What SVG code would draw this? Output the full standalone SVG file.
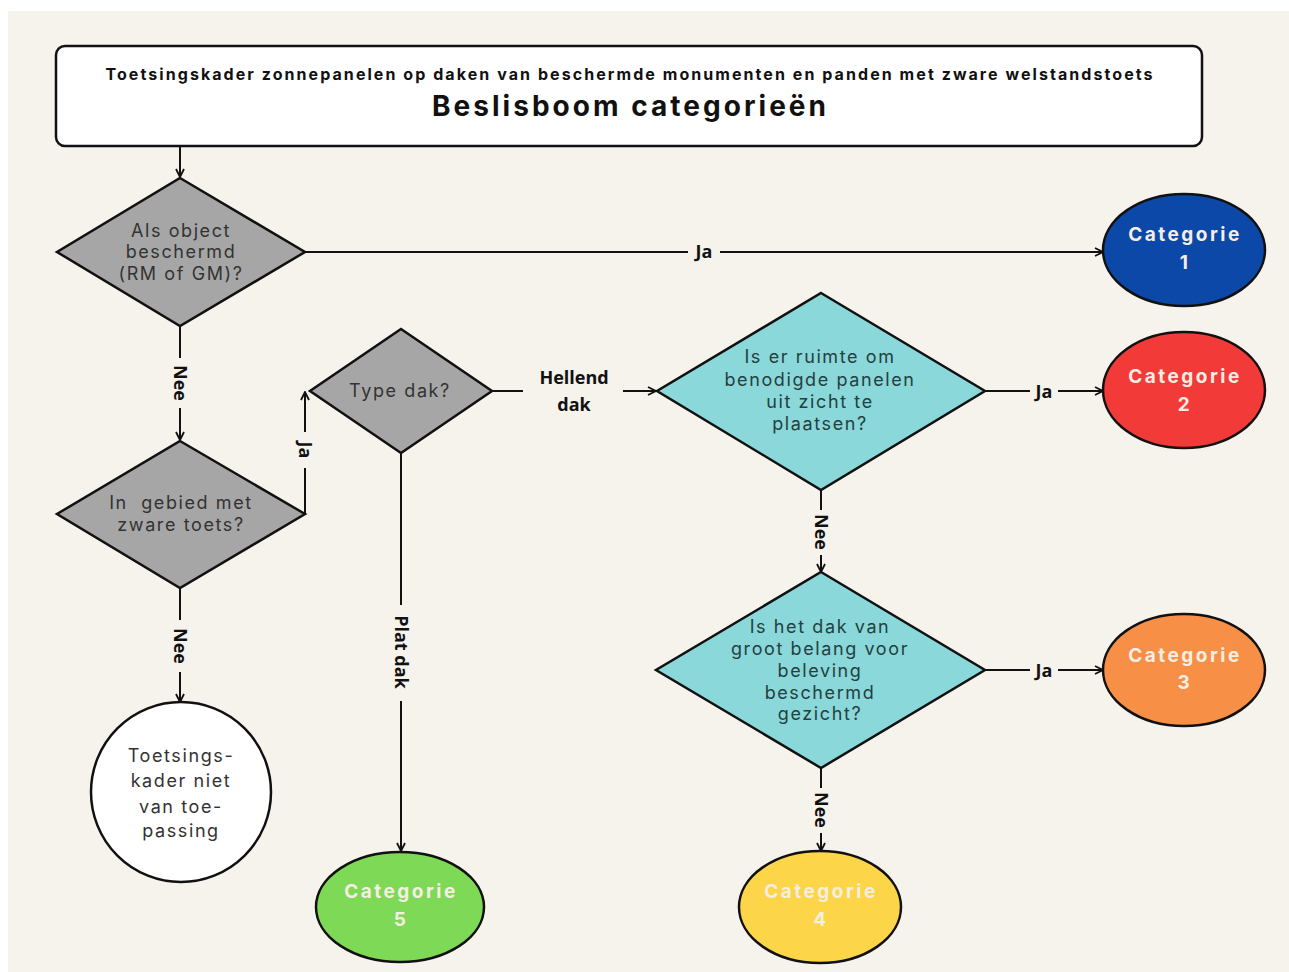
<svg xmlns="http://www.w3.org/2000/svg" width="1289" height="972" viewBox="0 0 1289 972">
<defs>
<marker id="arr" viewBox="0 0 10 10" refX="9" refY="5" markerWidth="10" markerHeight="10" markerUnits="userSpaceOnUse" orient="auto">
<path d="M1,1 L9,5 L1,9" fill="none" stroke="#111" stroke-width="1.8"/>
</marker>
<style>
.ln{fill:none;stroke:#111;stroke-width:2}
.gd{fill:#a6a6a6;stroke:#111;stroke-width:2.5}
.td{fill:#8ad8da;stroke:#111;stroke-width:2.5}
.el{stroke:#111;stroke-width:2.5}
.q{font-family:Inter,"Noto Sans",sans-serif;font-size:18px;letter-spacing:1.6px;text-anchor:middle;fill:#333}
.qt{fill:#24403f}
.cat{font-family:Inter,"Noto Sans",sans-serif;font-size:19px;font-weight:700;letter-spacing:2.5px;text-anchor:middle;fill:#f6eee2}
.lb{font-family:"Open Sans","Noto Sans",sans-serif;font-size:18px;font-weight:700;text-anchor:middle;fill:#111}
.tt{font-family:Inter,"Noto Sans",sans-serif;font-weight:700;text-anchor:middle;fill:#111}
</style>
</defs>
<rect x="0" y="0" width="1289" height="972" fill="#ffffff"/>
<rect x="8" y="11" width="1281" height="961" fill="#f6f2ec"/>

<g id="connectors">
<line class="ln" x1="180" y1="146" x2="180" y2="177" marker-end="url(#arr)"/>
<line class="ln" x1="305" y1="252" x2="688" y2="252"/>
<line class="ln" x1="720" y1="252" x2="1103" y2="252" marker-end="url(#arr)"/>
<text class="lb" x="704" y="258">Ja</text>
<line class="ln" x1="180" y1="326" x2="180" y2="358"/>
<line class="ln" x1="180" y1="408" x2="180" y2="440" marker-end="url(#arr)"/>
<text class="lb" transform="translate(174,383) rotate(90)">Nee</text>
<line class="ln" x1="305" y1="514" x2="305" y2="468"/>
<line class="ln" x1="305" y1="432" x2="305" y2="392" marker-end="url(#arr)"/>
<text class="lb" transform="translate(299,450) rotate(90)">Ja</text>
<line class="ln" x1="180" y1="588" x2="180" y2="620"/>
<line class="ln" x1="180" y1="672" x2="180" y2="702" marker-end="url(#arr)"/>
<text class="lb" transform="translate(174,646) rotate(90)">Nee</text>
<line class="ln" x1="492" y1="391" x2="523" y2="391"/>
<line class="ln" x1="623" y1="391" x2="656" y2="391" marker-end="url(#arr)"/>
<text class="lb" x="574" y="384">Hellend</text>
<text class="lb" x="574" y="411">dak</text>
<line class="ln" x1="401" y1="453" x2="401" y2="605"/>
<line class="ln" x1="401" y1="701" x2="401" y2="851" marker-end="url(#arr)"/>
<text class="lb" transform="translate(395,652) rotate(90)">Plat dak</text>
<line class="ln" x1="985" y1="391" x2="1030" y2="391"/>
<line class="ln" x1="1058" y1="391" x2="1103" y2="391" marker-end="url(#arr)"/>
<text class="lb" x="1044" y="398">Ja</text>
<line class="ln" x1="821" y1="490" x2="821" y2="510"/>
<line class="ln" x1="821" y1="555" x2="821" y2="572" marker-end="url(#arr)"/>
<text class="lb" transform="translate(815,532) rotate(90)">Nee</text>
<line class="ln" x1="985" y1="670" x2="1030" y2="670"/>
<line class="ln" x1="1058" y1="670" x2="1103" y2="670" marker-end="url(#arr)"/>
<text class="lb" x="1044" y="677">Ja</text>
<line class="ln" x1="821" y1="768" x2="821" y2="788"/>
<line class="ln" x1="821" y1="833" x2="821" y2="851" marker-end="url(#arr)"/>
<text class="lb" transform="translate(815,810) rotate(90)">Nee</text>
</g>

<g id="title">
<rect x="56" y="46" width="1146" height="100" rx="9" fill="#ffffff" stroke="#111" stroke-width="2.5"/>
<text class="tt" x="629" y="80" font-size="16" textLength="1047" lengthAdjust="spacing">Toetsingskader zonnepanelen op daken van beschermde monumenten en panden met zware welstandstoets</text>
<text class="tt" x="629" y="116" font-size="28" textLength="394" lengthAdjust="spacing">Beslisboom categorieën</text>
</g>

<g id="q1">
<polygon class="gd" points="180,178 305,252 180,326 57,252"/>
<text class="q" x="181" y="237">Als object</text>
<text class="q" x="181" y="258">beschermd</text>
<text class="q" x="181" y="280">(RM of GM)?</text>
</g>

<g id="q2">
<polygon class="gd" points="180,441 305,514 180,588 57,514"/>
<text class="q" x="181" y="509" xml:space="preserve">In  gebied met</text>
<text class="q" x="181" y="531">zware toets?</text>
</g>

<g id="q3">
<polygon class="gd" points="401,329 492,391 401,453 310,391"/>
<text class="q" x="400" y="397">Type dak?</text>
</g>

<g id="q4">
<polygon class="td" points="821,293 985,391 821,490 657,391"/>
<text class="q qt" x="820" y="363">Is er ruimte om</text>
<text class="q qt" x="820" y="386">benodigde panelen</text>
<text class="q qt" x="820" y="408">uit zicht te</text>
<text class="q qt" x="820" y="430">plaatsen?</text>
</g>

<g id="q5">
<polygon class="td" points="821,572 985,670 821,768 656,670"/>
<text class="q qt" x="820" y="633">Is het dak van</text>
<text class="q qt" x="820" y="655">groot belang voor</text>
<text class="q qt" x="820" y="677">beleving</text>
<text class="q qt" x="820" y="699">beschermd</text>
<text class="q qt" x="820" y="720">gezicht?</text>
</g>

<g id="notapplicable">
<circle cx="181" cy="792" r="90" fill="#ffffff" stroke="#111" stroke-width="2.5"/>
<text class="q" x="181" y="762">Toetsings-</text>
<text class="q" x="181" y="787">kader niet</text>
<text class="q" x="181" y="813">van toe-</text>
<text class="q" x="181" y="837">passing</text>
</g>

<g id="cat1">
<ellipse class="el" cx="1184" cy="250" rx="81" ry="56" fill="#0b48a8"/>
<text class="cat" x="1185" y="241">Categorie</text>
<text class="cat" x="1185" y="269">1</text>
</g>
<g id="cat2">
<ellipse class="el" cx="1184" cy="390" rx="81" ry="58" fill="#f23b38"/>
<text class="cat" x="1185" y="383">Categorie</text>
<text class="cat" x="1185" y="411">2</text>
</g>
<g id="cat3">
<ellipse class="el" cx="1184" cy="670" rx="81" ry="56" fill="#f88f47"/>
<text class="cat" x="1185" y="662">Categorie</text>
<text class="cat" x="1185" y="689">3</text>
</g>
<g id="cat4">
<ellipse class="el" cx="820" cy="907" rx="81" ry="56" fill="#fcd549"/>
<text class="cat" x="821" y="898">Categorie</text>
<text class="cat" x="821" y="926">4</text>
</g>
<g id="cat5">
<ellipse class="el" cx="400" cy="907" rx="84" ry="55" fill="#7ed957"/>
<text class="cat" x="401" y="898">Categorie</text>
<text class="cat" x="401" y="926">5</text>
</g>
</svg>
